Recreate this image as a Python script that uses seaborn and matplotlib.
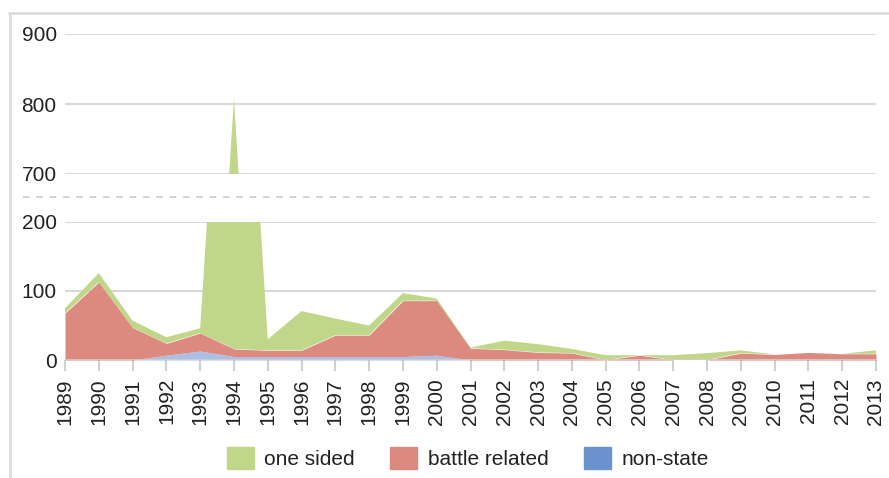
import pandas as pd
import numpy as np
import matplotlib
matplotlib.use("Agg")
import matplotlib.pyplot as plt
from matplotlib.patches import Patch
from matplotlib.lines import Line2D
import seaborn as sns

# valores (muertes por año)
years = list(range(1989, 2014))
non_state = [0, 0, 0, 7, 13, 5, 5, 5, 5, 5, 5, 7, 0, 0, 0, 0, 0, 0, 0, 0, 0, 0, 0, 0, 0]
battle_related = [68, 113, 47, 17, 26, 11, 9, 9, 31, 31, 81, 79, 17, 15, 11, 10, 0, 7, 0, 0, 10, 8, 11, 9, 9]
one_sided = [7, 13, 10, 9, 7, 792, 16, 57, 24, 14, 11, 3, 1, 13, 12, 6, 7, 0, 7, 10, 4, 0, 0, 0, 5]
series_names = ["one sided", "battle related", "non-state"]

df = pd.DataFrame({"year": years, "non-state": non_state,
                   "battle related": battle_related, "one sided": one_sided})

c_green = "#c0d688"
c_red = "#dc8a80"
c_blue_fill = "#aabfe6"
c_blue = "#6a92cc"
c_grid = "#d9d9d9"
c_text = "#222222"

sns.set_theme(style="white")
plt.rcParams["font.family"] = ["Liberation Sans", "DejaVu Sans"]
plt.rcParams["text.color"] = c_text
plt.rcParams["xtick.color"] = c_text
plt.rcParams["ytick.color"] = c_text

fig = plt.figure(figsize=(8.89, 4.78), dpi=100)
left, width = 65 / 889, 811 / 889
ax_top = fig.add_axes([left, 1 - 174 / 478, width, 140 / 478])
ax_bot = fig.add_axes([left, 1 - 360 / 478, width, 138 / 478])

for ax in (ax_top, ax_bot):
    ax.stackplot(df["year"], df["non-state"], df["battle related"], df["one sided"],
                 colors=[c_blue_fill, c_red, c_green], linewidth=0, zorder=2)
    ax.set_xlim(1989, 2013)
    ax.yaxis.grid(True, color=c_grid, linewidth=1.5, zorder=0)
    ax.set_axisbelow(True)
    sns.despine(ax=ax, left=True, right=True, top=True, bottom=True)
    ax.tick_params(axis="y", length=0, pad=6, labelsize=15)

ax_top.set_ylim(700, 900)
ax_top.set_yticks([700, 800, 900])
ax_top.set_xticks([])

ax_bot.set_ylim(0, 200)
ax_bot.set_yticks([0, 100, 200])
ax_bot.set_xticks(years)
ax_bot.set_xticklabels([str(y) for y in years], rotation=90)
ax_bot.tick_params(axis="x", length=8, width=1.5, color="#d0d0d0", pad=5, labelsize=15,
                   bottom=True)
ax_bot.axhline(0, color="#d8c9c9", linewidth=2, zorder=3)

# linea de corte del eje
fig.add_artist(Line2D([23 / 889, 876 / 889], [1 - 197 / 478] * 2, color="#cccccc",
                      linewidth=1.2, linestyle=(0, (4, 4))))
# marco
fig.add_artist(Line2D([9 / 889, 1], [1 - 12.5 / 478] * 2, color="#dcdcdc", linewidth=2))
fig.add_artist(Line2D([10 / 889] * 2, [0, 1 - 12.5 / 478], color="#dcdcdc", linewidth=2))

handles = [Patch(color=c_green), Patch(color=c_red), Patch(color=c_blue)]
fig.legend(handles, series_names, loc="center", bbox_to_anchor=(0.526, 1 - 458 / 478),
           ncol=3, frameon=False, fontsize=15, handlelength=1.3, handleheight=1.3,
           handletextpad=0.5, columnspacing=1.7, borderaxespad=0)

plt.savefig("out.png", dpi=100)
